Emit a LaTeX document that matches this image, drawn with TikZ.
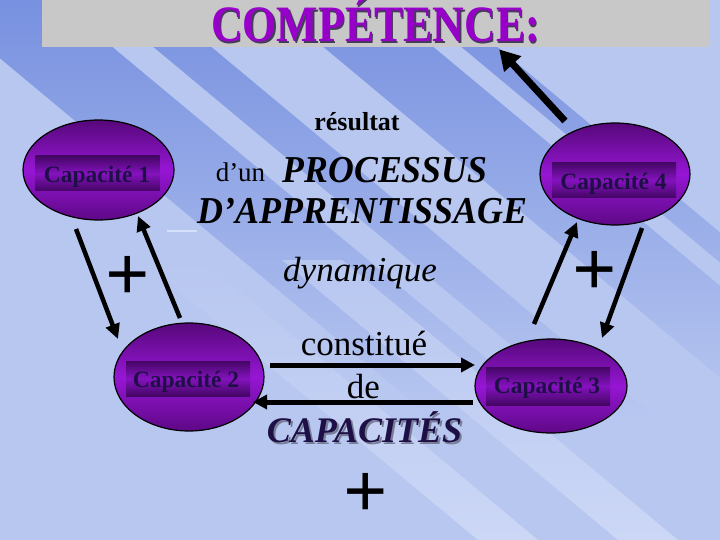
\documentclass[tikz,border=0pt]{standalone}
\usepackage{fontspec}
\setmainfont{Liberation Serif}
\usetikzlibrary{shapes.geometric,arrows.meta,calc}
\definecolor{bgc}{RGB}{184,199,240}
\definecolor{bandc}{RGB}{120,145,224}
\definecolor{palec}{RGB}{204,215,246}
\definecolor{glintc}{RGB}{214,224,250}
\definecolor{barc}{RGB}{200,200,200}
\definecolor{titc}{RGB}{150,0,200}
\definecolor{shadc}{RGB}{70,60,90}
\definecolor{capc}{RGB}{30,16,70}
\definecolor{capshc}{RGB}{120,125,150}
\definecolor{ptop}{RGB}{86,8,122}
\definecolor{pmid}{RGB}{150,22,212}
\definecolor{pbot}{RGB}{94,8,134}
\definecolor{rtop}{RGB}{68,6,100}
\definecolor{rmid}{RGB}{132,18,190}
\newcommand{\shadowed}[4]{\rlap{\hspace{#3}\raisebox{-#3}{\textcolor{#2}{#1}}}\textcolor{#4}{#1}}
\begin{document}
\begin{tikzpicture}[x=1pt,y=-1pt,
  capell/.style={ellipse, draw=black, line width=1.2pt, inner sep=0,
    top color=ptop, bottom color=pbot, middle color=pmid},
  caprect/.style={rectangle, inner sep=0, minimum width=124, minimum height=35,
    top color=rtop, bottom color=rtop, middle color=rmid},
  captext/.style={anchor=base, inner sep=0, text=capc,
    font=\fontsize{23.5}{26}\selectfont\bfseries},
  txt/.style={anchor=base, inner sep=0, text=black},
  plussign/.style={inner sep=0, text=black, font=\fontsize{78}{80}\selectfont\bfseries},
  arr/.style={line width=4.5pt, -{Triangle[length=15pt,width=14pt]}},
  harr/.style={line width=5pt, -{Triangle[length=14pt,width=14pt]}},
  bigarr/.style={line width=7pt, -{Triangle[length=20pt,width=22pt]}}
]
\useasboundingbox (0,0) rectangle (720,540);
\fill[bgc] (0,0) rectangle (720,540);
\begin{scope}
\clip (0,0) rectangle (720,540);
\foreach \a/\b in {-70/56, 97/155, 267/377, 405/441}{
  \shade[top color=bandc, middle color=bandc!75!bgc, bottom color=bgc]
    (\a,0) -- (\b,0) -- ({\b+1.2*420},420) -- ({\a+1.2*420},420) -- cycle;
}
\foreach \a/\b in {-170/-110, -30/30}{
  \shade[top color=bgc, bottom color=palec]
    ({\a+1.2*260},260) -- ({\b+1.2*260},260) -- ({\b+1.2*540},540) -- ({\a+1.2*540},540) -- cycle;
}
\end{scope}
\draw[glintc, line width=2pt] (167,231) -- (197,231);

% title bar
\node[rectangle, fill=barc, minimum width=668, minimum height=47, inner sep=0, anchor=north west] (bar) at (42,0) {};
\node[anchor=base, inner sep=0, font=\fontsize{51}{54}\selectfont\bfseries] (title) at (375.5,42) {\scalebox{0.86}[1]{\shadowed{COMPÉTENCE:}{shadc}{1.8pt}{titc}}};

% ellipses
\node[capell, minimum width=151, minimum height=100] (c1) at (98.5,170) {};
\node[capell, minimum width=150, minimum height=102] (c4) at (615,174) {};
\node[capell, minimum width=150, minimum height=108] (c2) at (189,377) {};
\node[capell, minimum width=152, minimum height=94] (c3) at (551,386) {};
\node[caprect] (r1) at (97.5,173.5) {};
\node[caprect] (r4) at (614,180) {};
\node[caprect] (r2) at (188,378.5) {};
\node[caprect, minimum height=38] (r3) at (548,386) {};
\node[captext] (t1) at (97,183) {Capacité 1};
\node[captext] (t4) at (613.5,190) {Capacité 4};
\node[captext] (t2) at (186,387) {Capacité 2};
\node[captext] (t3) at (547,393) {Capacité 3};

% central texts
\node[txt, font=\fontsize{26}{28}\selectfont\bfseries] (res) at (357,131) {résultat};
\node[txt, font=\fontsize{27}{29}\selectfont] (dun) at (240.5,182) {d’un};
\node[txt, font=\fontsize{38}{40}\selectfont\bfseries\itshape] (proc) at (385,183) {\scalebox{0.94}[1]{PROCESSUS}};
\node[txt, font=\fontsize{38}{40}\selectfont\bfseries\itshape] (appr) at (362.5,223) {\scalebox{0.945}[1]{D’APPRENTISSAGE}};
\node[txt, font=\fontsize{35}{37}\selectfont\itshape] (dyn) at (360,281) {dynamique};
\node[txt, font=\fontsize{35}{37}\selectfont] (const) at (364,355) {constitué};
\node[txt, font=\fontsize{35}{37}\selectfont] (de) at (363.5,398) {de};
\node[txt, font=\fontsize{36}{38}\selectfont\bfseries\itshape] (capa) at (364.5,442) {\shadowed{CAPACITÉS}{capshc}{2pt}{capc}};

% plus signs
\node[plussign] (p1) at (128,278) {+};
\node[plussign] (p2) at (595,273) {+};
\node[plussign] (p3) at (366,495) {+};

% arrows
\draw[bigarr] ($(c4.center)+(-50,-53)$) -- ($(bar.south)+(123,2)$);
\draw[arr] ($(c1.center)+(-22.5,59)$) -- ($(c2.center)+(-71,-38)$);
\draw[arr] ($(c2.center)+(-9,-59)$) -- ($(c1.center)+(39.5,46)$);
\draw[arr] ($(c3.center)+(-17,-62)$) -- ($(c4.center)+(-38,48)$);
\draw[arr] ($(c4.center)+(27,54)$) -- ($(c3.center)+(51,-48)$);
\draw[harr] ($(c2.center)+(81,-12)$) -- ($(c3.center)+(-76,-21)$);
\draw[harr] ($(c3.center)+(-78,16)$) -- ($(c2.center)+(64,25)$);
\end{tikzpicture}
\end{document}
